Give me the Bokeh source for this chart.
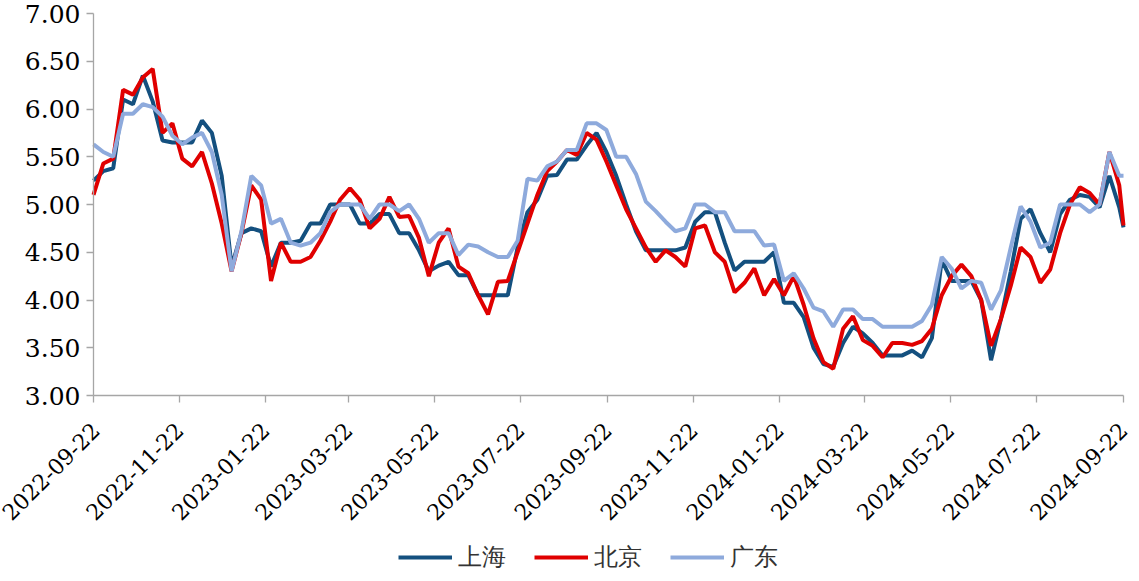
import math
import pandas as pd
from bokeh.plotting import figure
from bokeh.models import (Range1d, FixedTicker, Legend, LegendItem,
                          NumeralTickFormatter, DatetimeTickFormatter, ColumnDataSource)
from bokeh.embed import file_html
from bokeh.resources import INLINE

# ---------------- data ----------------
dates = list(pd.date_range("2022-09-22", periods=105, freq="7D")) + [pd.Timestamp("2024-09-22")]

shanghai = [
    5.25, 5.35, 5.38, 6.10, 6.05, 6.35, 6.08, 5.67, 5.65, 5.65,
    5.65, 5.88, 5.75, 5.30, 4.35, 4.70, 4.75, 4.72, 4.35, 4.60,
    4.60, 4.62, 4.80, 4.80, 5.00, 5.00, 5.00, 4.80, 4.80, 4.90,
    4.90, 4.70, 4.70, 4.52, 4.30, 4.36, 4.40, 4.26, 4.26, 4.05,
    4.05, 4.05, 4.05, 4.55, 4.92, 5.05, 5.30, 5.31, 5.47, 5.47,
    5.62, 5.75, 5.55, 5.30, 5.00, 4.72, 4.52, 4.52, 4.52, 4.52,
    4.55, 4.82, 4.92, 4.92, 4.60, 4.31, 4.40, 4.40, 4.40, 4.50,
    3.97, 3.97, 3.82, 3.50, 3.33, 3.30, 3.55, 3.72, 3.65, 3.55,
    3.42, 3.42, 3.42, 3.47, 3.40, 3.60, 4.42, 4.20, 4.20, 4.20,
    4.00, 3.37, 3.80, 4.30, 4.85, 4.95, 4.70, 4.50, 4.90, 5.05,
    5.10, 5.08, 4.97, 5.30, 4.97, 4.76,
]

beijing = [
    5.10, 5.43, 5.48, 6.20, 6.15, 6.33, 6.42, 5.75, 5.85, 5.48,
    5.40, 5.55, 5.22, 4.80, 4.30, 4.70, 5.20, 5.05, 4.20, 4.60,
    4.40, 4.40, 4.45, 4.62, 4.82, 5.05, 5.17, 5.05, 4.75, 4.85,
    5.08, 4.87, 4.88, 4.65, 4.25, 4.60, 4.75, 4.35, 4.28, 4.05,
    3.85, 4.19, 4.20, 4.50, 4.80, 5.10, 5.35, 5.45, 5.57, 5.52,
    5.75, 5.68, 5.45, 5.20, 4.95, 4.75, 4.55, 4.40, 4.52, 4.45,
    4.35, 4.75, 4.78, 4.50, 4.40, 4.08, 4.18, 4.33, 4.05, 4.22,
    4.05, 4.25, 3.95, 3.60, 3.35, 3.28, 3.70, 3.83, 3.58, 3.52,
    3.40, 3.55, 3.55, 3.53, 3.57, 3.70, 4.05, 4.25, 4.37, 4.25,
    4.00, 3.52, 3.80, 4.15, 4.55, 4.45, 4.18, 4.32, 4.70, 5.00,
    5.18, 5.12, 5.00, 5.55, 5.20, 4.78,
]

guangdong = [
    5.63, 5.55, 5.50, 5.95, 5.95, 6.05, 6.02, 5.92, 5.72, 5.63,
    5.70, 5.75, 5.55, 5.10, 4.30, 4.72, 5.30, 5.20, 4.80, 4.85,
    4.60, 4.57, 4.60, 4.70, 4.92, 5.00, 5.00, 5.00, 4.85, 5.00,
    5.00, 4.93, 5.00, 4.85, 4.60, 4.70, 4.70, 4.47, 4.58, 4.56,
    4.50, 4.45, 4.45, 4.62, 5.27, 5.25, 5.40, 5.45, 5.57, 5.57,
    5.85, 5.85, 5.78, 5.50, 5.50, 5.32, 5.03, 4.93, 4.82, 4.72,
    4.75, 5.00, 5.00, 4.92, 4.92, 4.72, 4.72, 4.72, 4.57, 4.58,
    4.20, 4.28, 4.12, 3.92, 3.88, 3.72, 3.90, 3.90, 3.80, 3.80,
    3.72, 3.72, 3.72, 3.72, 3.78, 3.95, 4.45, 4.33, 4.12, 4.20,
    4.18, 3.90, 4.10, 4.55, 4.98, 4.82, 4.55, 4.60, 5.00, 5.00,
    5.00, 4.92, 5.00, 5.55, 5.30, 5.30,
]

series_names = ["上海", "北京", "广东"]
series_colors = ["#14507F", "#E00000", "#8EAADC"]

x_tick_labels = ["2022-09-22", "2022-11-22", "2023-01-22", "2023-03-22", "2023-05-22",
                 "2023-07-22", "2023-09-22", "2023-11-22", "2024-01-22", "2024-03-22",
                 "2024-05-22", "2024-07-22", "2024-09-22"]
y_ticks = [3.0, 3.5, 4.0, 4.5, 5.0, 5.5, 6.0, 6.5, 7.0]
y_min, y_max = 3.0, 7.0
x_first, x_last = pd.Timestamp("2022-09-22"), pd.Timestamp("2024-09-22")

# ---------------- layout (pixels) ----------------
FONT = "DejaVu Serif"
W, H = 1131, 573
AXIS_LEFT, AXIS_RIGHT = 93, 1123      # pixel x of first / last date
AXIS_TOP, AXIS_BOTTOM = 13, 395       # pixel y of 7.00 / 3.00
px_per_day = (AXIS_RIGHT - AXIS_LEFT) / (x_last - x_first).days
px_per_unit = (AXIS_BOTTOM - AXIS_TOP) / (y_max - y_min)

x_start = x_first - pd.Timedelta(days=AXIS_LEFT / px_per_day)
x_end = x_last + pd.Timedelta(days=(W - AXIS_RIGHT) / px_per_day)
y_end = y_max + AXIS_TOP / px_per_unit
y_start = y_min - (H - AXIS_BOTTOM) / px_per_unit

p = figure(width=W, height=H, x_axis_type="datetime",
           x_range=Range1d(x_start, x_end), y_range=Range1d(y_start, y_end),
           output_backend="svg", toolbar_location=None)
p.min_border = 0
p.outline_line_color = None
p.xgrid.visible = False
p.ygrid.visible = False
p.background_fill_color = "white"
p.border_fill_color = "white"

source = ColumnDataSource(dict(date=dates, sh=shanghai, bj=beijing, gd=guangdong))
renderers = []
for key, col in zip(["sh", "bj", "gd"], series_colors):
    r = p.line("date", key, source=source, line_color=col, line_width=4)
    renderers.append(r)

t_first_ms = x_first.value / 1e6
t_last_ms = x_last.value / 1e6
tick_ms = [pd.Timestamp(s).value // 10**6 for s in x_tick_labels]

p.xaxis.fixed_location = y_min
p.xaxis.bounds = (t_first_ms, t_last_ms)
p.xaxis.ticker = FixedTicker(ticks=tick_ms)
p.xaxis.formatter = DatetimeTickFormatter(days="%Y-%m-%d", months="%Y-%m-%d", years="%Y-%m-%d",
                                          hours="%Y-%m-%d", minutes="%Y-%m-%d")
p.xaxis.major_label_overrides = {t: s for t, s in zip(tick_ms, x_tick_labels)}
p.xaxis.major_label_orientation = math.pi / 4
p.xaxis.minor_tick_line_color = None

p.yaxis.fixed_location = t_first_ms
p.yaxis.bounds = (y_min, y_max)
p.yaxis.ticker = FixedTicker(ticks=y_ticks)
p.yaxis.formatter = NumeralTickFormatter(format="0.00")
p.yaxis.minor_tick_line_color = None

for ax in (p.xaxis[0], p.yaxis[0]):
    ax.axis_line_color = "#A6A6A6"
    ax.axis_line_width = 1.3
    ax.major_tick_line_color = "#A6A6A6"
    ax.major_tick_line_width = 1.3
    ax.major_tick_in = 0
    ax.major_tick_out = 7
    ax.major_label_text_font = FONT
    ax.major_label_text_color = "#000000"
p.xaxis.major_label_text_font_size = "22px"
p.yaxis.major_label_text_font_size = "25px"
p.yaxis.major_label_standoff = 6
p.xaxis.major_label_standoff = 24

legend = Legend(items=[LegendItem(label=n, renderers=[r]) for n, r in zip(series_names, renderers)],
                orientation="horizontal", location=(398, 0))
legend.label_text_font = FONT
legend.label_text_font_size = "24px"
legend.label_text_color = "#333333"
legend.glyph_width = 54
legend.glyph_height = 24
legend.label_height = 24
legend.label_standoff = 6
legend.spacing = 28
legend.padding = 0
legend.margin = 0
legend.border_line_color = None
legend.background_fill_alpha = 0
p.add_layout(legend, "center")

open("out.html", "w").write(file_html(p, INLINE))
